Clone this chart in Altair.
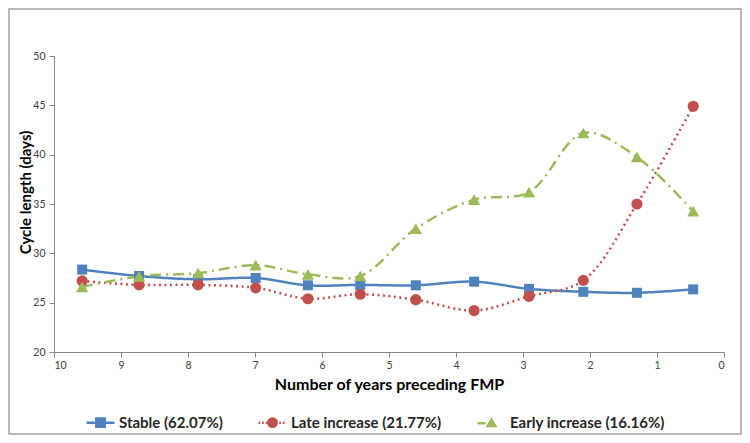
import altair as alt
import pandas as pd

# ---- data ----
years = [9.58, 8.73, 7.85, 6.99, 6.21, 5.43, 4.60, 3.73, 2.91, 2.10, 1.30, 0.46]
stable = [28.35, 27.7, 27.37, 27.5, 26.76, 26.8, 26.76, 27.13, 26.4, 26.1, 26.0, 26.35]
late = [27.2, 26.8, 26.8, 26.5, 25.4, 25.85, 25.3, 24.2, 25.64, 27.26, 35.0, 44.9]
early = [26.6, 27.67, 28.0, 28.8, 27.87, 27.7, 32.5, 35.44, 36.2, 42.2, 39.76, 34.26]

series_names = ["Stable (62.07%)", "Late increase (21.77%)", "Early increase (16.16%)"]
series_colors = ["#4F81BD", "#C0504D", "#9BBB59"]
x_ticks = list(range(0, 11))
y_ticks = [20, 25, 30, 35, 40, 45, 50]

rows = []
for name, vals in zip(series_names, [stable, late, early]):
    for x, y in zip(years, vals):
        rows.append({"series": name, "years": x, "length": y})
df = pd.DataFrame(rows)

W, H = 670, 296

xenc = alt.X("years:Q", scale=alt.Scale(domain=[10, 0], nice=False, zero=False),
             axis=alt.Axis(values=x_ticks, title="Number of years preceding FMP",
                           format="d", grid=False, tickSize=5, labelPadding=3,
                           titlePadding=6))
yenc = alt.Y("length:Q", scale=alt.Scale(domain=[20, 50], nice=False, zero=False),
             axis=alt.Axis(values=y_ticks, title="Cycle length (days)", grid=False,
                           tickSize=5, labelPadding=4, titleX=-21, titleY=136,
                           titleFontSize=15))

color_scale = alt.Scale(domain=series_names, range=series_colors)

base = alt.Chart(df).encode(x=xenc, y=yenc)

dashes = [[1, 0], [2, 3.5], [11, 5, 2, 5]]
layers = []
for name, col, dash in zip(series_names, series_colors, dashes):
    layers.append(
        base.transform_filter(alt.datum.series == name)
        .mark_line(interpolate="catmull-rom", strokeWidth=2.5, strokeDash=dash, color=col)
    )

shapes = ["square", "circle", "triangle-up"]
sizes = [100, 125, 150]
for name, col, shp, sz in zip(series_names, series_colors, shapes, sizes):
    layers.append(
        base.transform_filter(alt.datum.series == name)
        .mark_point(shape=shp, filled=True, size=sz, opacity=1, color=col)
    )

# legend symbols: line segment + marker, as custom symbol paths
leg_paths = [
    "M-1,0H1M-0.3,-0.3H0.3V0.3H-0.3Z",
    "M-1,0H-0.88M-0.74,0H-0.62M-0.48,0H-0.38M0.48,0H0.6M0.74,0H0.86"
    "M0.3,0A0.3,0.3 0 1,1 -0.3,0A0.3,0.3 0 1,1 0.3,0Z",
    "M-1,0H-0.42M0,-0.26L0.27,0.2H-0.27Z",
]
legend = alt.Legend(title=None, orient="none", legendX=31, legendY=351,
                    direction="horizontal", symbolSize=784, symbolStrokeWidth=2.5,
                    symbolOpacity=1,
                    labelFontSize=15, labelFontWeight="bold", labelColor="#262626",
                    labelFont="Lato", columnPadding=30, labelOffset=3,
                    labelLimit=300)
# legend-only layer: its points sit below the y domain and are clipped away
legend_layer = (
    base.transform_calculate(length="0")
    .mark_point(filled=True, clip=True, opacity=1)
    .encode(
        shape=alt.Shape("series:N", scale=alt.Scale(domain=series_names, range=leg_paths),
                        legend=legend),
        fill=alt.Fill("series:N", scale=color_scale, legend=legend),
        stroke=alt.Stroke("series:N", scale=color_scale, legend=legend),
    )
)
layers.append(legend_layer)

frame = alt.Chart(alt.Data(values=[{}])).mark_rect(
    fill=None, stroke="#A0A0A0", strokeWidth=1.5, clip=False
).encode(x=alt.value(-45), x2=alt.value(W + 17), y=alt.value(-47), y2=alt.value(H + 82))

chart = alt.layer(frame, *layers).properties(
    width=W, height=H,
    autosize=alt.AutoSizeParams(type="none"),
    padding={"left": 46, "top": 48, "right": 18, "bottom": 83},
).configure_view(stroke=None).configure_axis(
    domainColor="#868686", tickColor="#868686", labelColor="#404040",
    labelFont="Lato", labelFontSize=10.5, titleFont="Lato", titleFontSize=16,
    titleFontWeight="bold", titleColor="#000000", domainWidth=1,
)

chart.save("out.html", embed_options={"renderer": "svg", "actions": False})
